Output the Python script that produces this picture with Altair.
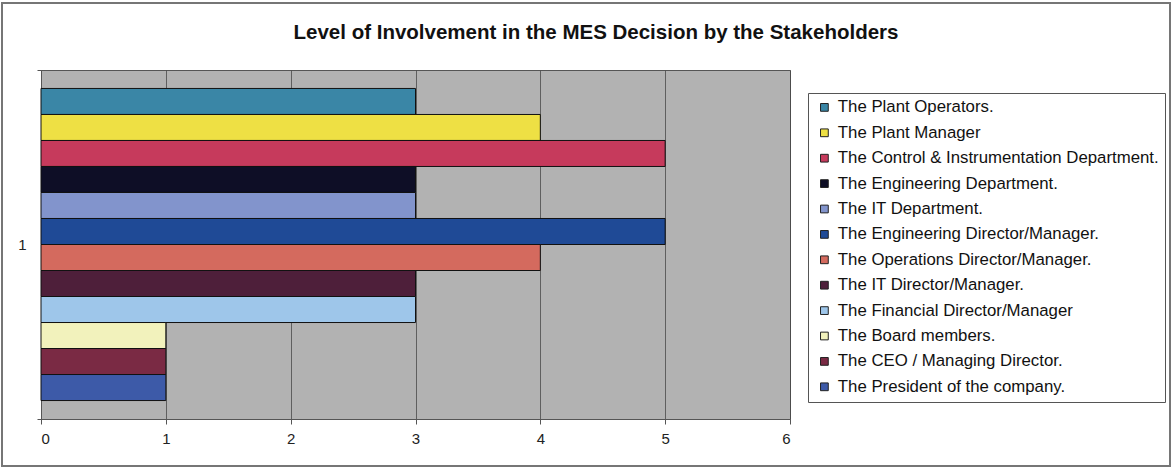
import altair as alt
import pandas as pd

title_text = "Level of Involvement in the MES Decision by the Stakeholders"
stakeholders = [
    "The Plant Operators.",
    "The Plant Manager",
    "The Control & Instrumentation Department.",
    "The Engineering Department.",
    "The IT Department.",
    "The Engineering Director/Manager.",
    "The Operations Director/Manager.",
    "The IT Director/Manager.",
    "The Financial Director/Manager",
    "The Board members.",
    "The CEO / Managing Director.",
    "The President of the company.",
]
values = [3, 4, 5, 3, 3, 5, 4, 3, 3, 1, 1, 1]
colors = [
    "#3a86a6", "#eee044", "#c63a5c", "#0e0e26", "#8294cc", "#1f4a96",
    "#d46a5e", "#4e1f3a", "#9ec6ea", "#f2f2bc", "#7a2a44", "#3d5aa8",
]
group = ["1"] * len(stakeholders)

df = pd.DataFrame({"group": group, "stakeholder": stakeholders, "value": values})

bars = alt.Chart(df).mark_bar(stroke="#111111", strokeWidth=1, opacity=1).encode(
    x=alt.X("value:Q", scale=alt.Scale(domain=[0, 6], nice=False),
            axis=alt.Axis(title=None, values=[0, 1, 2, 3, 4, 5, 6], format="d",
                          grid=True, gridColor="#4a4a4a", gridWidth=0.8,
                          domainColor="#555555", tickColor="#555555", tickSize=5,
                          labelFontSize=15, labelColor="#222222", labelPadding=7,
                          labelFont="Liberation Sans")),
    y=alt.Y("group:N", scale=alt.Scale(paddingInner=0, paddingOuter=0),
            axis=alt.Axis(title=None, tickBand="extent", domainColor="#555555",
                          tickColor="#555555", tickSize=4, labelFontSize=15,
                          labelColor="#222222", labelPadding=11, labelAngle=0,
                          labelFont="Liberation Sans")),
    yOffset=alt.YOffset("stakeholder:N", sort=stakeholders,
                        scale=alt.Scale(paddingInner=0, paddingOuter=0.71)),
    color=alt.Color("stakeholder:N", sort=stakeholders,
                    scale=alt.Scale(domain=stakeholders, range=colors),
                    legend=alt.Legend(title=None, orient="none", legendX=767, legendY=23,
                                      symbolType="square", symbolSize=60,
                                      symbolStrokeColor="#222222", symbolStrokeWidth=1,
                                      labelFontSize=16.8, labelFont="Liberation Sans",
                                      labelColor="#111111", labelLimit=400,
                                      rowPadding=7.4, padding=6, fillColor="white",
                                      strokeColor="#555555",
                                      symbolOffset=2, labelOffset=5)),
)

frame = alt.Chart(df).mark_rect(fill=None, stroke="#777777", strokeWidth=1.5, clip=False).encode(
    x=alt.value(-39), x2=alt.value(1129), y=alt.value(-67), y2=alt.value(396)
)

title_df = pd.DataFrame({"t": [title_text]})
title = alt.Chart(title_df).mark_text(
    font="Liberation Sans", fontSize=20.5, fontWeight="bold", color="#111111",
    align="center", baseline="middle", clip=False
).encode(text="t:N", x=alt.value(555), y=alt.value(-37))

chart = alt.layer(frame, bars, title).properties(
    width=749,
    height=349,
    padding={"left": 41, "top": 70, "right": 383, "bottom": 50},
    autosize=alt.AutoSizeParams(type="none"),
).configure(
    background="white",
    view=alt.ViewConfig(fill="#b2b2b2", stroke="#555555", strokeWidth=1),
)

chart.save("out.html", embed_options={"renderer": "svg", "actions": False})
